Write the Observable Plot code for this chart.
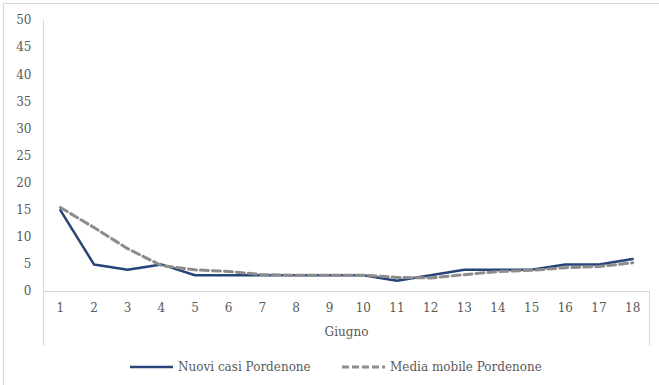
<!DOCTYPE html>
<html>
<head>
<meta charset="utf-8">
<script src="https://cdn.jsdelivr.net/npm/d3@7"></script>
<script src="https://cdn.jsdelivr.net/npm/@observablehq/plot@0.6"></script>
<style>
  html, body { margin: 0; padding: 0; background: #fff; }
  #wrap { position: relative; width: 659px; height: 385px; overflow: hidden; font-family: "DejaVu Serif", serif; }
  #frame { position: absolute; left: 3px; top: 3px; width: 700px; height: 400px; border-top: 1px solid #d9d9d9; border-left: 1px solid #d9d9d9; pointer-events: none; }
  #chart { position: absolute; left: 0; top: 0; }
  #legend { position: absolute; left: 0; top: 356px; width: 659px; height: 22px; font-size: 12px; color: #595959; }
  .item { position: absolute; top: 0; display: flex; align-items: center; height: 22px; white-space: nowrap; }
  .item svg { margin-right: 5px; }
</style>
</head>
<body>
<div id="wrap">
  <div id="chart"></div>
  <div id="legend"></div>
  <div id="frame"></div>
</div>
<script>
const days = [1, 2, 3, 4, 5, 6, 7, 8, 9, 10, 11, 12, 13, 14, 15, 16, 17, 18];
const nuoviCasi = [15, 5, 4, 5, 3, 3, 3, 3, 3, 3, 2, 3, 4, 4, 4, 5, 5, 6];
const mediaMobile = [15.5, 11.8, 7.9, 4.8, 4.0, 3.7, 3.1, 3.0, 3.0, 3.0, 2.6, 2.5, 3.1, 3.7, 3.9, 4.4, 4.6, 5.3];
const yTicks = [0, 5, 10, 15, 20, 25, 30, 35, 40, 45, 50];
const seriesNames = ["Nuovi casi Pordenone", "Media mobile Pordenone"];
const xTitle = "Giugno";

const blue = "#264478";
const gray = "#8c8c8c";
const textColor = "#595959";
const axisColor = "#d9d9d9";

const W = 659, H = 350, mL = 43, mR = 10, mT = 20, mB = 59;

const plot = Plot.plot({
  width: W, height: H,
  marginLeft: mL, marginRight: mR, marginTop: mT, marginBottom: mB,
  style: { fontFamily: "DejaVu Serif, serif", fontSize: "12px", color: textColor, background: "transparent", overflow: "visible" },
  x: { type: "point", domain: days, padding: 0.5, round: false, label: null },
  y: { domain: [0, 50], label: null },
  marks: [
    Plot.axisY({ ticks: yTicks, tickSize: 0, tickPadding: 12, label: null, fill: textColor }),
    Plot.axisX({ tickSize: 0, tickPadding: 12, label: null, fill: textColor }),
    Plot.ruleY([0], { stroke: axisColor, strokeWidth: 1 }),
    Plot.frame({ anchor: "left", stroke: axisColor, strokeWidth: 1 }),
    Plot.line(days, { x: d => d, y: (d, i) => nuoviCasi[i], stroke: blue, strokeWidth: 2.5, strokeLinejoin: "round" }),
    Plot.line(days, { x: d => d, y: (d, i) => mediaMobile[i], stroke: gray, strokeWidth: 3, strokeDasharray: "8,4" }),
    Plot.text([xTitle], { text: d => d, frameAnchor: "bottom", dy: 44, fill: textColor, fontSize: 12 })
  ]
});

// extend the category-axis box lines below the plot frame
const svg = d3.select(plot);
const y0 = plot.scale("y").apply(0);
const yBottom = y0 + 55;
[mL, W - mR].forEach(x => {
  svg.append("line")
    .attr("x1", x + 0.5).attr("x2", x + 0.5)
    .attr("y1", y0).attr("y2", yBottom)
    .attr("stroke", axisColor);
});

document.getElementById("chart").appendChild(plot);

// legend
const legend = document.getElementById("legend");
const items = [
  { name: seriesNames[0], color: blue, dash: null, width: 2.5, left: 130 },
  { name: seriesNames[1], color: gray, dash: "7,3", width: 3, left: 342 }
];
items.forEach(it => {
  const div = document.createElement("div");
  div.className = "item";
  div.style.left = it.left + "px";
  const sw = d3.create("svg").attr("width", 43).attr("height", 10);
  sw.append("line").attr("x1", 0).attr("x2", 43).attr("y1", 5).attr("y2", 5)
    .attr("stroke", it.color).attr("stroke-width", it.width)
    .attr("stroke-dasharray", it.dash);
  div.appendChild(sw.node());
  const span = document.createElement("span");
  span.textContent = it.name;
  div.appendChild(span);
  legend.appendChild(div);
});
</script>
</body>
</html>
